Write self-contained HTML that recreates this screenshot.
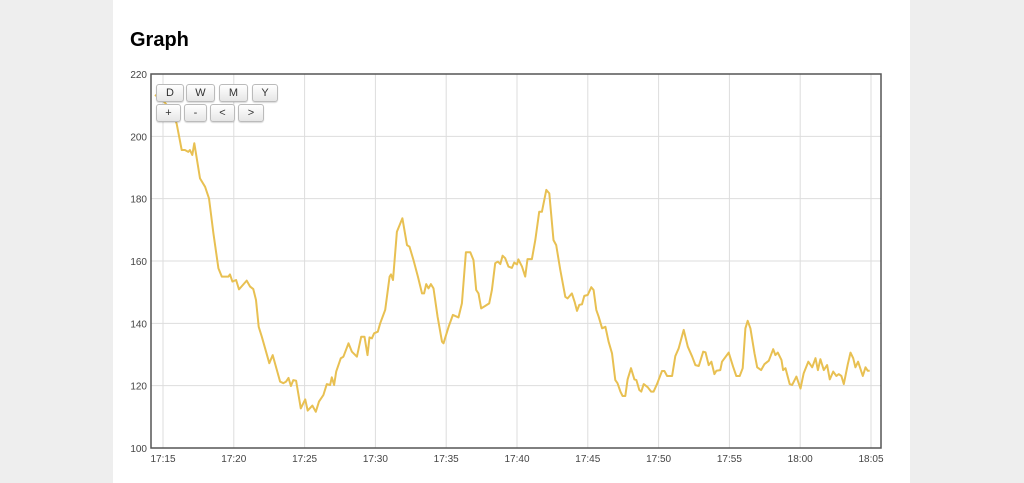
<!DOCTYPE html>
<html><head><meta charset="utf-8"><style>
body{margin:0;background:#eeeeee;width:1024px;height:483px;overflow:hidden;font-family:"Liberation Sans",sans-serif}
#panel{position:absolute;left:113px;top:0;width:797px;height:483px;background:#fff}
h1{position:absolute;left:130px;top:29px;margin:0;font-size:20px;font-weight:bold;color:#000}
.btn{position:absolute;height:16px;border:1px solid #bbb;border-radius:3px;background:linear-gradient(#fff,#e6e6e6);font-size:11px;color:#333;text-align:center;line-height:16px;box-shadow:0 1px 1px rgba(0,0,0,.15)}
</style></head><body>
<div id="panel"></div>
<h1>Graph</h1>
<svg id="chart" width="1024" height="483" style="position:absolute;left:0;top:0"></svg>
<div class="btn" style="left:156px;top:84px;width:26px">D</div>
<div class="btn" style="left:186px;top:84px;width:27px">W</div>
<div class="btn" style="left:219px;top:84px;width:27px">M</div>
<div class="btn" style="left:252px;top:84px;width:24px">Y</div>
<div class="btn" style="left:156px;top:104px;width:23px">+</div>
<div class="btn" style="left:184px;top:104px;width:21px">-</div>
<div class="btn" style="left:210px;top:104px;width:23px">&lt;</div>
<div class="btn" style="left:238px;top:104px;width:24px">&gt;</div>
<script>
const xTickLabels=["17:15","17:20","17:25","17:30","17:35","17:40","17:45","17:50","17:55","18:00","18:05"];
const yTickValues=[100,120,140,160,180,200,220];
const times=[-0.57,0,0.73,0.97,1.32,1.55,1.79,1.9,2.07,2.21,2.61,2.97,3.25,3.56,3.91,4.15,4.62,4.73,4.9,5.16,5.37,5.91,6.15,6.38,6.57,6.76,6.98,7.21,7.51,7.75,8.27,8.5,8.69,8.86,9.03,9.2,9.4,9.73,10.04,10.22,10.55,10.79,11.02,11.33,11.57,11.8,11.92,12.08,12.23,12.56,12.74,13.1,13.34,13.69,14,14.23,14.44,14.58,14.75,14.91,15.17,15.34,15.69,16,16.1,16.24,16.52,16.91,17.23,17.41,17.69,18,18.29,18.44,18.59,18.75,18.92,19.1,19.39,19.7,19.81,20.17,20.47,20.87,21.11,21.39,21.7,21.93,22.12,22.28,22.47,22.76,23.04,23.23,23.46,23.65,23.82,23.98,24.17,24.4,24.64,24.8,25,25.1,25.35,25.58,25.74,26.05,26.29,26.57,26.76,27.07,27.28,27.58,27.77,28.06,28.41,28.57,28.88,29.07,29.24,29.4,29.59,29.75,29.99,30.25,30.41,30.6,30.77,31.01,31.24,31.47,31.71,31.94,32.1,32.3,32.46,32.65,32.81,33.05,33.29,33.43,33.64,33.78,33.95,34.23,34.47,34.65,34.89,35.24,35.41,35.6,35.95,36.18,36.42,36.77,37.06,37.37,37.6,37.84,38.15,38.31,38.54,38.73,38.94,39.08,39.36,39.48,39.95,40.26,40.49,40.73,40.94,41.13,41.29,41.48,41.77,41.96,42.24,42.47,42.78,43.09,43.25,43.42,43.68,43.79,43.96,44.26,44.43,44.73,45.02,45.25,45.57,45.85,46.08,46.25,46.43,46.67,46.9,47.09,47.33,47.56,47.72,47.91,48.08,48.36,48.55,48.74,48.9,49.09,49.42,49.61,49.77,49.91];
const values=[213.3,211.6,207.4,204,195.6,195.6,195,195.6,194,197.8,186.5,183.8,180.1,168.9,157.7,155,155,155.7,153.4,153.9,150.9,153.7,151.8,151,147.5,138.9,135.7,132,127.2,129.8,121.3,120.8,121.3,122.5,119.9,121.8,121.6,112.7,115.6,112,113.6,111.6,114.9,117,120.5,120.2,122.7,120.2,124.5,128.8,129.3,133.6,130.9,129.3,135.7,135.7,129.8,135.5,135.2,136.8,137.3,140,144.3,155,155.7,153.9,169.4,173.7,165.1,164.6,160.3,155,149.6,149.6,152.6,151.2,152.6,151.2,142.1,134.1,133.6,138.9,142.7,141.9,146.4,162.8,162.8,160.3,150.7,149.6,144.8,145.6,146.4,150.7,159.3,159.8,159,161.7,160.9,158.2,157.8,159.5,158.9,160.5,158.2,155,160.6,160.6,166.7,175.8,175.8,182.8,181.7,166.7,165.1,157.1,148.5,148,149.6,146.9,144,145.9,146.1,148.8,149.1,151.6,150.7,144.3,142.1,138.4,138.9,134.1,130.4,121.8,120.8,118.1,116.7,116.7,122,125.6,122,121.8,118.6,118.1,120.5,119.5,118.1,118.1,120.5,124.7,124.7,123.1,123.1,129.5,132,137.9,132.5,129.3,126.6,126.3,130.9,130.7,126.6,127.7,123.7,124.8,125,127.7,130.6,126.1,123.1,123.1,125.6,138.4,140.8,138.4,130.4,125.9,125,126.9,128,131.7,129.8,130.6,128.2,125,125.6,120.5,120.2,122.9,119.1,124,127.7,125.9,128.8,125,128.5,125,126.6,122,124.5,123.1,123.7,123.1,120.5,126.9,130.6,128.8,125.9,127.7,123.1,125.9,124.8,124.8];
const svg=document.getElementById('chart');const NS='http://www.w3.org/2000/svg';
const L=151,R=881,T=74,B=448;
function xs(m){return 163+m*(871-163)/50;}
function ys(v){return B-(v-100)*(B-T)/120;}
function mk(t,a,p){const e=document.createElementNS(NS,t);for(const k in a)e.setAttribute(k,a[k]);(p||svg).appendChild(e);return e;}
xTickLabels.forEach((lab,i)=>{const x=xs(i*5);
const g=mk('line',{x1:x,x2:x,y1:T,y2:B,stroke:'#dddddd','stroke-width':1});


const t=mk('text',{x:x,y:462,'text-anchor':'middle','font-size':10,fill:'#444','font-family':'Liberation Sans, sans-serif'});t.textContent=lab;

});
yTickValues.forEach(v=>{const y=ys(v);
const g=mk('line',{x1:L,x2:R,y1:y,y2:y,stroke:'#dddddd','stroke-width':1});


const t=mk('text',{x:147,y:y+4,'text-anchor':'end','font-size':10,fill:'#444','font-family':'Liberation Sans, sans-serif'});t.textContent=v;

});
const fr=mk('rect',{x:L,y:T,width:R-L,height:B-T,fill:'none',stroke:'#555','stroke-width':1.5});


const pts=times.map((t,i)=>xs(t).toFixed(1)+','+ys(values[i]).toFixed(1)).join(' ');
const pl=mk('polyline',{points:pts,fill:'none',stroke:'#e8c052','stroke-width':2,'stroke-linejoin':'round'});


</script>
</body></html>
